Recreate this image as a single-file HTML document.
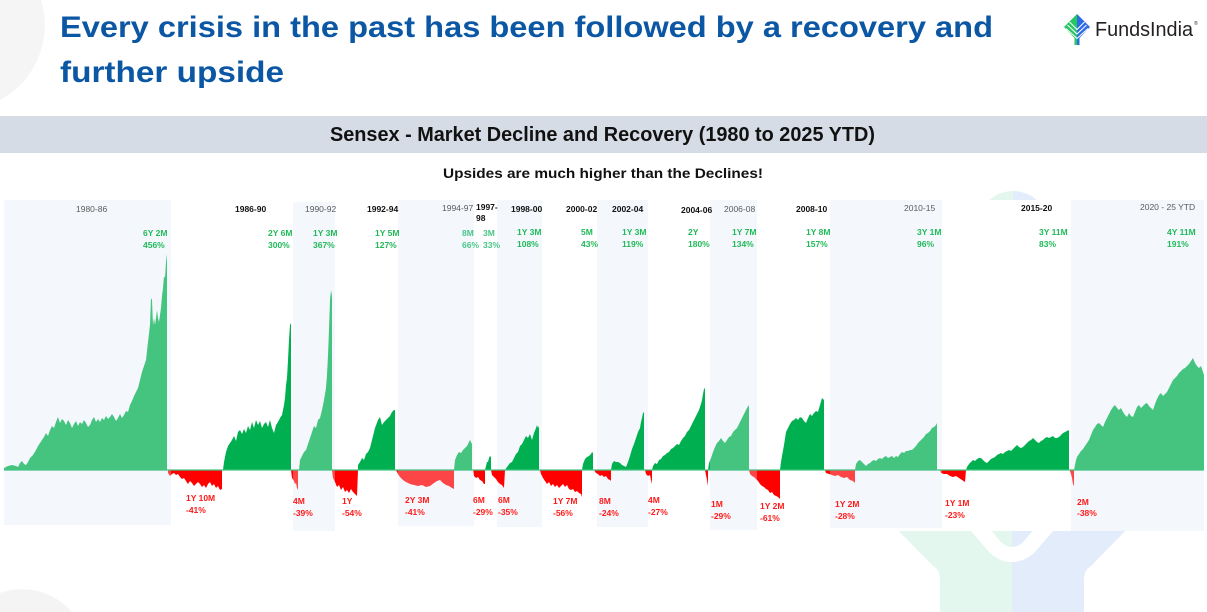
<!DOCTYPE html>
<html><head><meta charset="utf-8"><style>
html,body{margin:0;padding:0;background:#fff;overflow:hidden;}
body{width:1207px;height:612px;overflow:hidden;}
svg{display:block;overflow:hidden;font-family:"Liberation Sans",Arial,sans-serif;}
.g{fill:#21b95a;font-size:8.5px;font-weight:bold;}
.gl{fill:#48c588;font-size:8.5px;font-weight:bold;}
.r{fill:#ff1a1a;font-size:8.5px;font-weight:bold;}
.pb{fill:#111;font-size:8.5px;font-weight:bold;}
.pg{fill:#5a5a5a;font-size:8.5px;}
</style></head><body>
<svg width="1207" height="612" viewBox="0 0 1207 612" xmlns="http://www.w3.org/2000/svg">
<rect width="1207" height="612" fill="#fff"/>
<!-- background decorations -->
<path d="M0,0 L41,0 A85,85 0 0 1 0,100 Z" fill="#f5f5f5"/>
<path d="M0,612 L0,593 A66,66 0 0 1 72,612 Z" fill="#f4f4f4"/>
<!-- watermark -->
<path d="M1013,191 A36,36 0 0 0 977,227 L1013,227 Z" fill="#e4f7ee"/>
<path d="M1013,191 A36,36 0 0 1 1049,227 L1013,227 Z" fill="#e3ecfb"/>
<path d="M890,522 L963,522 L990,553 Q1000,562 1012,562 L1012,612 L940,612 L940,580 Q940,570 933,566 Z" fill="#e4f7ee"/>
<path d="M1134,522 L1061,522 L1034,553 Q1024,562 1012,562 L1012,612 L1084,612 L1084,580 Q1084,570 1091,566 Z" fill="#e3ecfb"/>
<path d="M984,522 L1000,541 Q1005,547 1012,547 L1012,522 Z" fill="#e4f7ee"/>
<path d="M1040,522 L1024,541 Q1019,547 1012,547 L1012,522 Z" fill="#e3ecfb"/>

<!-- title -->
<text x="60" y="37" font-size="29.5" font-weight="bold" fill="#0b57a4" textLength="933" lengthAdjust="spacingAndGlyphs">Every crisis in the past has been followed by a recovery and</text>
<text x="60" y="82" font-size="29.5" font-weight="bold" fill="#0b57a4" textLength="224" lengthAdjust="spacingAndGlyphs">further upside</text>

<!-- logo -->
<g>
<path d="M1077,14 L1077,45 L1074.5,45 L1074.5,38 L1064,27 Z" fill="#27c763"/>
<path d="M1077,14 L1090,27 L1079.5,38 L1079.5,45 L1077,45 Z" fill="#2e6be6"/>
<polyline points="1066,28.5 1077,38.5 1088,28.5" fill="none" stroke="#fff" stroke-width="1"/>
<polyline points="1067.5,25 1077,34 1086.5,25" fill="none" stroke="#fff" stroke-width="1"/>
<polyline points="1069.5,22 1077,29.5 1084.5,22" fill="none" stroke="#fff" stroke-width="1"/>
<text x="1095" y="36" font-size="20" fill="#231f20" textLength="98" lengthAdjust="spacingAndGlyphs">FundsIndia</text>
<text x="1194" y="25" font-size="5" fill="#231f20">®</text>
</g>

<!-- header band -->
<rect x="0" y="116" width="1207" height="37" fill="#d6dce5"/>
<text x="330" y="141" font-size="20" font-weight="bold" fill="#111" textLength="545" lengthAdjust="spacingAndGlyphs">Sensex - Market Decline and Recovery (1980 to 2025 YTD)</text>
<text x="443" y="178" font-size="14" font-weight="bold" fill="#111" textLength="320" lengthAdjust="spacingAndGlyphs">Upsides are much higher than the Declines!</text>

<!-- plot area -->
<rect x="0" y="200" width="1207" height="331" fill="#fff"/>
<g fill="#f4f8fd">
<rect x="4" y="200" width="167" height="325"/>
<rect x="293" y="202" width="42" height="329"/>
<rect x="398" y="200" width="76" height="326"/>
<rect x="497" y="200" width="45" height="327"/>
<rect x="597" y="200" width="51" height="327"/>
<rect x="710" y="200" width="47" height="330"/>
<rect x="830" y="200" width="112" height="328"/>
<rect x="1071" y="200" width="133" height="331"/>
</g>

<!-- series -->
<g>
<polygon fill="#00b050" points="4,470 4,468 8,466 12,465 16,466 18,467 20,463 22,461 24,464 26,465 28,462 30,458 33,455 36,450 38,446 40,443 42,440 44,437 46,433 48,436 50,430 52,426 54,428 56,422 58,417 60,423 62,419 64,421 66,425 68,420 70,423 72,428 74,424 76,421 78,426 80,422 82,424 84,420 86,423 88,427 90,425 92,420 94,417 96,422 98,419 100,422 102,418 104,420 106,416 108,419 110,417 112,414 114,417 116,421 118,418 120,414 122,418 124,415 126,411 128,412 130,405 132,401 134,396 136,392 138,388 140,380 142,372 144,366 146,360 148,342 150,325 151,298 152,300 153,325 154,318 155,325 156,318 157,310 158,318 159,322 160,315 161,308 162,296 163,288 164,276 165,278 166,262 167,254 167,470"/>
<polygon fill="#ff0000" points="168,470 168,473 170,476 172,474 174,473 176,475 178,474 180,477 182,479 184,478 186,481 188,484 190,481 192,483 194,486 196,484 198,482 200,484 202,487 204,485 206,488 208,484 210,482 212,486 214,484 216,488 218,486 220,490 222,489 222,470"/>
<polygon fill="#00b050" points="223,470 224,462 226,452 228,446 230,443 232,440 234,436 236,441 238,432 240,430 242,434 244,429 246,433 248,426 250,430 252,422 254,428 256,420 258,425 260,421 262,428 264,424 266,422 268,427 270,420 272,428 274,433 276,425 278,422 280,418 282,415 284,405 285,398 286,385 287,378 288,360 289,340 290,325 291,323 291,470"/>
<polygon fill="#ff0000" points="291,470 292,478 294,481 295,484 296,483 297,488 298,490 298,470"/>
<polygon fill="#00b050" points="299,470 300,460 302,456 304,452 306,450 308,444 310,438 312,432 314,426 316,428 318,420 320,418 322,410 324,400 326,388 327,375 328,355 329,330 330,300 331,290 332,296 332,470"/>
<polygon fill="#ff0000" points="332,470 333,478 335,482 337,487 339,485 341,490 343,487 345,492 347,490 349,493 351,489 353,492 355,494 357,496 358,470"/>
<polygon fill="#00b050" points="358,470 358,465 360,462 362,458 364,460 366,454 368,452 370,448 372,440 375,428 378,420 380,417 382,425 384,422 386,420 388,418 390,416 392,412 394,410 395,410 395,470"/>
<polygon fill="#ff0000" points="396,470 398,474 400,477 403,480 406,482 410,484 414,485 418,486 422,485 426,487 430,486 434,483 437,481 440,480 443,483 446,485 449,486 452,488 454,489 454,470"/>
<polygon fill="#00b050" points="454,470 455,460 457,455 459,452 461,453 463,450 465,448 467,446 469,442 470,440 471,442 472,444 472,470"/>
<polygon fill="#ff0000" points="473,470 474,476 476,478 478,477 480,480 482,481 484,484 485,484 485,470"/>
<polygon fill="#00b050" points="485,470 486,466 487,462 488,462 489,458 490,456 491,457 491,470"/>
<polygon fill="#ff0000" points="491,470 492,475 494,477 496,479 498,482 500,484 502,485 504,488 505,470"/>
<polygon fill="#00b050" points="505,470 507,467 510,463 512,462 514,458 516,454 518,452 520,446 522,444 524,440 526,436 528,438 530,434 532,440 534,433 536,428 537,425 538,428 539,426 539,470"/>
<polygon fill="#ff0000" points="540,470 541,474 543,478 545,481 547,484 549,482 551,486 553,484 555,487 557,485 559,488 561,486 563,484 565,487 567,485 569,489 571,490 573,489 575,492 577,491 579,493 581,494 582,497 582,470"/>
<polygon fill="#00b050" points="582,470 583,464 585,459 587,457 589,456 591,454 592,452 593,453 593,470"/>
<polygon fill="#ff0000" points="594,470 596,473 598,474 600,476 602,475 604,477 606,476 608,479 610,480 611,481 611,470"/>
<polygon fill="#00b050" points="611,470 612,464 614,461 616,462 618,462 620,463 622,465 624,466 626,467 628,462 630,456 632,449 634,444 636,438 638,432 640,428 641,422 642,418 643,413 644,412 644,470"/>
<polygon fill="#ff0000" points="645,470 646,474 648,476 650,475 651,480 652,484 652,470"/>
<polygon fill="#00b050" points="652,470 653,466 655,463 657,464 659,460 661,459 663,456 665,455 667,453 669,452 671,449 673,448 675,446 677,444 679,445 681,441 683,438 685,436 687,432 689,430 691,426 693,422 695,418 697,414 699,410 701,404 702,400 703,394 704,389 705,388 705,470"/>
<polygon fill="#ff0000" points="705,470 706,475 707,480 708,486 708,470"/>
<polygon fill="#00b050" points="708,470 709,463 711,458 713,452 715,447 717,443 719,441 721,438 723,441 725,443 727,440 729,437 731,436 733,432 735,430 737,428 739,424 741,420 743,416 745,412 747,408 749,405 749,470"/>
<polygon fill="#ff0000" points="749,470 750,474 752,476 754,477 756,479 758,481 760,484 762,486 764,487 766,489 768,490 770,493 772,492 774,495 776,496 778,497 780,499 780,470"/>
<polygon fill="#00b050" points="780,470 781,462 782,456 784,445 786,432 788,428 790,424 792,421 794,420 796,418 798,420 800,417 802,418 804,421 806,423 808,418 810,414 812,416 814,413 816,411 818,412 820,405 822,398 824,400 824,470"/>
<polygon fill="#ff0000" points="825,470 826,473 829,474 832,475 835,476 838,475 841,477 844,478 847,477 850,480 853,481 855,483 855,470"/>
<polygon fill="#00b050" points="855,470 856,464 858,461 860,460 862,462 864,464 866,466 868,464 870,463 872,461 874,460 876,461 878,459 880,458 882,459 884,457 886,456 888,458 890,457 892,456 894,458 896,456 898,457 900,454 902,452 904,453 906,451 908,451 910,450 912,450 914,448 916,446 918,443 920,441 922,439 924,437 926,434 928,433 930,431 932,428 934,427 936,425 937,423 937,470"/>
<polygon fill="#ff0000" points="940,470 941,473 944,474 947,474 950,476 953,477 956,476 959,478 962,480 965,482 966,470"/>
<polygon fill="#00b050" points="966,470 967,467 969,464 971,462 973,460 975,461 977,459 979,458 981,458 983,460 985,462 987,463 989,461 991,459 993,458 995,457 997,455 999,454 1001,453 1003,454 1005,452 1007,451 1009,450 1011,451 1013,449 1015,447 1017,445 1019,447 1021,448 1023,447 1025,445 1027,443 1029,441 1031,440 1033,438 1035,440 1037,442 1039,443 1041,441 1043,440 1045,438 1047,437 1049,438 1051,437 1053,436 1055,438 1057,438 1059,437 1061,435 1063,433 1065,432 1067,431 1068,430 1069,431 1069,470"/>
<polygon fill="#ff0000" points="1070,470 1071,474 1072,478 1073,484 1074,486 1074,470"/>
<polygon fill="#00b050" points="1074,470 1075,465 1076,460 1077,457 1079,454 1081,451 1083,449 1085,446 1087,443 1089,440 1091,435 1093,430 1095,427 1097,424 1099,423 1101,425 1103,427 1105,422 1107,418 1109,414 1111,410 1113,407 1115,405 1117,408 1119,410 1121,408 1123,412 1125,415 1127,417 1129,413 1131,416 1133,417 1135,412 1137,407 1139,405 1141,408 1143,406 1145,404 1147,403 1149,406 1151,408 1153,410 1155,404 1157,399 1159,395 1161,393 1163,396 1165,394 1167,392 1169,388 1171,384 1173,380 1175,378 1177,376 1179,373 1181,371 1183,369 1185,368 1187,366 1189,364 1191,361 1193,358 1195,363 1197,366 1199,368 1201,366 1203,372 1204,375 1204,470"/>
</g>

<!-- overlay panels (lighten series inside) -->
<g fill="#f4f8fd" fill-opacity="0.28">
<rect x="4" y="200" width="167" height="325"/>
<rect x="293" y="202" width="42" height="329"/>
<rect x="398" y="200" width="76" height="326"/>
<rect x="710" y="200" width="47" height="330"/>
<rect x="830" y="200" width="112" height="328"/>
<rect x="1071" y="200" width="133" height="331"/>
</g>
<line x1="4" y1="470" x2="1204" y2="470" stroke="#45c384" stroke-width="1.3"/>

<!-- period labels -->
<text class="pg" x="76" y="212">1980-86</text>
<text class="pb" x="235" y="212">1986-90</text>
<text class="pg" x="305" y="212">1990-92</text>
<text class="pb" x="367" y="212">1992-94</text>
<text class="pg" x="442" y="211">1994-97</text>
<text class="pb" x="476" y="210">1997-</text>
<text class="pb" x="476" y="221">98</text>
<text class="pb" x="511" y="212">1998-00</text>
<text class="pb" x="566" y="212">2000-02</text>
<text class="pb" x="612" y="212">2002-04</text>
<text class="pb" x="681" y="213">2004-06</text>
<text class="pg" x="724" y="212">2006-08</text>
<text class="pb" x="796" y="212">2008-10</text>
<text class="pg" x="904" y="211">2010-15</text>
<text class="pb" x="1021" y="211">2015-20</text>
<text class="pg" x="1140" y="210">2020 - 25 YTD</text>

<!-- green labels -->
<text class="g" x="143" y="236">6Y 2M</text><text class="g" x="143" y="248">456%</text>
<text class="g" x="268" y="236">2Y 6M</text><text class="g" x="268" y="248">300%</text>
<text class="g" x="313" y="236">1Y 3M</text><text class="g" x="313" y="248">367%</text>
<text class="g" x="375" y="236">1Y 5M</text><text class="g" x="375" y="248">127%</text>
<text class="gl" x="462" y="236">8M</text><text class="gl" x="462" y="248">66%</text>
<text class="gl" x="483" y="236">3M</text><text class="gl" x="483" y="248">33%</text>
<text class="g" x="517" y="235">1Y 3M</text><text class="g" x="517" y="247">108%</text>
<text class="g" x="581" y="235">5M</text><text class="g" x="581" y="247">43%</text>
<text class="g" x="622" y="235">1Y 3M</text><text class="g" x="622" y="247">119%</text>
<text class="g" x="688" y="235">2Y</text><text class="g" x="688" y="247">180%</text>
<text class="g" x="732" y="235">1Y 7M</text><text class="g" x="732" y="247">134%</text>
<text class="g" x="806" y="235">1Y 8M</text><text class="g" x="806" y="247">157%</text>
<text class="g" x="917" y="235">3Y 1M</text><text class="g" x="917" y="247">96%</text>
<text class="g" x="1039" y="235">3Y 11M</text><text class="g" x="1039" y="247">83%</text>
<text class="g" x="1167" y="235">4Y 11M</text><text class="g" x="1167" y="247">191%</text>

<!-- red labels -->
<text class="r" x="186" y="501">1Y 10M</text><text class="r" x="186" y="513">-41%</text>
<text class="r" x="293" y="504">4M</text><text class="r" x="293" y="516">-39%</text>
<text class="r" x="342" y="504">1Y</text><text class="r" x="342" y="516">-54%</text>
<text class="r" x="405" y="503">2Y 3M</text><text class="r" x="405" y="515">-41%</text>
<text class="r" x="473" y="503">6M</text><text class="r" x="473" y="515">-29%</text>
<text class="r" x="498" y="503">6M</text><text class="r" x="498" y="515">-35%</text>
<text class="r" x="553" y="504">1Y 7M</text><text class="r" x="553" y="516">-56%</text>
<text class="r" x="599" y="504">8M</text><text class="r" x="599" y="516">-24%</text>
<text class="r" x="648" y="503">4M</text><text class="r" x="648" y="515">-27%</text>
<text class="r" x="711" y="507">1M</text><text class="r" x="711" y="519">-29%</text>
<text class="r" x="760" y="509">1Y 2M</text><text class="r" x="760" y="521">-61%</text>
<text class="r" x="835" y="507">1Y 2M</text><text class="r" x="835" y="519">-28%</text>
<text class="r" x="945" y="506">1Y 1M</text><text class="r" x="945" y="518">-23%</text>
<text class="r" x="1077" y="505">2M</text><text class="r" x="1077" y="516">-38%</text>
</svg>
</body></html>
